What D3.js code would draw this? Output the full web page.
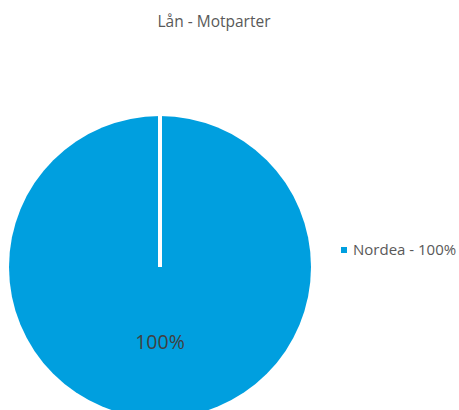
<!DOCTYPE html>
<html>
<head>
<meta charset="utf-8">
<script src="https://cdn.jsdelivr.net/npm/d3@7"></script>
<style>
  body { margin: 0; background: #fff; }
  text { font-family: "Open Sans", "Liberation Sans", sans-serif; }
</style>
</head>
<body>
<div id="chart"></div>
<script>
// chart data
const labels = ["Nordea"];
const values = [100];
const colors = ["#009FDF"];
const chartTitle = "Lån - Motparter";

const width = 459;
const height = 410;

const svg = d3.select('#chart').append('svg')
    .attr('width', width)
    .attr('height', height);

svg.append('text')
   .attr('x', 214)
   .attr('y', 27)
   .attr('text-anchor', 'middle')
   .style('font-size', '15.5px')
   .style('fill', '#595959')
   .text(chartTitle);

const total = d3.sum(values);
const pie = d3.pie().sort(null).startAngle(0).endAngle(2 * Math.PI);
const arcs = pie(values);
const radius = 151;
const arc = d3.arc().innerRadius(0).outerRadius(radius);

const g = svg.append('g')
             .attr('transform', 'translate(160,267)');

g.selectAll('path')
 .data(arcs)
 .enter()
 .append('path')
 .attr('d', arc)
 .attr('fill', (d, i) => colors[i]);

// white separator from center to start of slice
g.selectAll('line.sep')
 .data(arcs)
 .enter()
 .append('line')
 .attr('class', 'sep')
 .attr('x1', 0).attr('y1', 0)
 .attr('x2', d => radius * Math.sin(d.startAngle))
 .attr('y2', d => -radius * Math.cos(d.startAngle))
 .attr('stroke', '#fff')
 .attr('stroke-width', 4);

const labelArc = d3.arc().innerRadius(radius * 0.5).outerRadius(radius * 0.5);
g.selectAll('text.lbl')
 .data(arcs)
 .enter()
 .append('text')
 .attr('class', 'lbl')
 .attr('transform', d => {
     const c = labelArc.centroid(d);
     // single full slice: centroid lands straight below the center
     return d.endAngle - d.startAngle > 6 ? 'translate(0,' + (radius * 0.5) + ')' : 'translate(' + c + ')';
 })
 .attr('dy', '0.35em')
 .attr('text-anchor', 'middle')
 .style('font-size', '19.5px')
 .style('fill', '#404040')
 .text(d => Math.round(d.value / total * 100) + '%');

const legend = svg.append('g')
                  .attr('transform', 'translate(341,250)');
const items = legend.selectAll('g')
    .data(labels)
    .enter()
    .append('g')
    .attr('transform', (d, i) => 'translate(0,' + (i * 20) + ')');
items.append('rect')
     .attr('x', 0).attr('y', -3)
     .attr('width', 6).attr('height', 6)
     .attr('fill', (d, i) => colors[i]);
items.append('text')
     .attr('x', 12)
     .attr('y', 0)
     .attr('dy', '0.35em')
     .style('font-size', '15px')
     .style('fill', '#595959')
     .text((d, i) => d + ' - ' + Math.round(values[i] / total * 100) + '%');
</script>
</body>
</html>
